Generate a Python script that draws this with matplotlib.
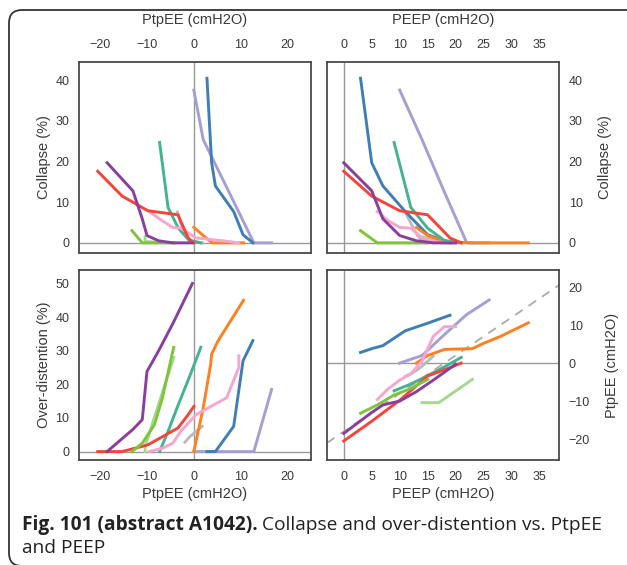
import numpy as np
import matplotlib
matplotlib.use("Agg")
import matplotlib.pyplot as plt
from matplotlib.patches import FancyBboxPatch

# per-patient series: PEEP step, PtpEE, collapse (%), over-distention (%)
blue_peep = [3, 5, 7, 11, 15, 19]
blue_ptpee = [2.8, 3.8, 4.6, 8.5, 10.5, 12.6]
blue_collapse = [40.5, 19.7, 14.0, 7.7, 2.0, 0.0]
blue_overdist = [0, 0, 0, 7.5, 27, 33]

lavender_peep = [10, 14, 18, 22, 26]
lavender_ptpee = [0, 2, 7.5, 12.8, 16.6]
lavender_collapse = [37.6, 25.4, 12.5, 0, 0]
lavender_overdist = [0, 0, 0, 0, 18.5]

orange_peep = [13, 15, 18, 23, 25, 28, 33]
orange_ptpee = [0, 2, 3.6, 3.8, 5.2, 7, 10.6]
orange_collapse = [3.8, 1.8, 0.3, 0, 0, 0, 0]
orange_overdist = [0, 13, 26, 29, 33, 37, 45]

red_peep = [0, 5, 10, 15, 19, 21]
red_ptpee = [-20.5, -15.3, -9.8, -3.4, -1.2, 0]
red_collapse = [17.6, 11.5, 7.9, 6.9, 1.2, 0]
red_overdist = [0, 0, 2, 7, 11, 13.4]

purple_peep = [0, 5, 7, 10, 13, 16, 20]
purple_ptpee = [-18.5, -13, -11, -10.0, -7.5, -4.5, -0.3]
purple_collapse = [19.7, 12.8, 5.9, 1.8, 0.5, 0, 0]
purple_overdist = [0, 6.6, 9.5, 23.8, 30, 38, 50]

teal_peep = [9, 12, 15, 18, 21]
teal_ptpee = [-7.3, -5.5, -3.3, -1.0, 1.5]
teal_collapse = [24.7, 8.7, 3.6, 0.6, 0]
teal_overdist = [0, 6, 14, 22, 31]

pink_peep = [6, 8, 10, 12, 14, 16, 18, 20]
pink_ptpee = [-9.6, -6.7, -4.5, -2.8, 0.5, 7, 9.6, 9.6]
pink_collapse = [7.7, 5.4, 3.8, 3.6, 1.2, 0.4, 0, 0]
pink_overdist = [0, 1, 2.5, 6, 11, 16, 25, 28.5]

green_peep = [3, 6, 9, 12, 15]
green_ptpee = [-13.2, -11, -8.4, -6.7, -4.3]
green_collapse = [3, 0, 0, 0, 0]
green_overdist = [0, 2.5, 8, 16, 31]

lightgreen_peep = [14, 17, 23]
lightgreen_ptpee = [-10.4, -10.4, -4.3]
lightgreen_collapse = [1.5, 0.3, 0]
lightgreen_overdist = [0, 1.5, 28]

grey_peep = [11, 12, 13, 14, 16]
grey_ptpee = [-3.5, -2.8, -1.9, -0.8, 1.8]
grey_collapse = [7.6, 4.8, 2.2, 0.5, 0]
grey_overdist = [np.nan, np.nan, 2.8, 4.5, 7.5]

# dashed reference line in the PtpEE vs PEEP panel
ref_peep = [-3, 38.5]
ref_ptpee = [-21, 20.5]

patients = [
    ('#bbbbbb', grey_peep, grey_ptpee, grey_collapse, grey_overdist),
    ('#a3d990', lightgreen_peep, lightgreen_ptpee, lightgreen_collapse, lightgreen_overdist),
    ('#a59fd4', lavender_peep, lavender_ptpee, lavender_collapse, lavender_overdist),
    ('#3f7fb5', blue_peep, blue_ptpee, blue_collapse, blue_overdist),
    ('#ff8020', orange_peep, orange_ptpee, orange_collapse, orange_overdist),
    ('#45b392', teal_peep, teal_ptpee, teal_collapse, teal_overdist),
    ('#f7a6d0', pink_peep, pink_ptpee, pink_collapse, pink_overdist),
    ('#f5453a', red_peep, red_ptpee, red_collapse, red_overdist),
    ('#7fc43a', green_peep, green_ptpee, green_collapse, green_overdist),
    ('#8a3f9c', purple_peep, purple_ptpee, purple_collapse, purple_overdist),
]

plt.rcParams['font.family'] = ['Liberation Sans', 'DejaVu Sans']
txt_col = '#3a3a3a'
lab_size = 10.5

W, H = 627, 565
fig = plt.figure(figsize=(W / 100, H / 100), dpi=100)


def px_axes(l, t, r, b):
    return fig.add_axes([l / W, 1 - b / H, (r - l) / W, (b - t) / H])


ax_tl = px_axes(79, 62, 311, 253)
ax_tr = px_axes(327, 62, 559, 253)
ax_bl = px_axes(79, 270, 311, 460)
ax_br = px_axes(327, 270, 559, 460)

for ax in [ax_tl, ax_tr, ax_bl, ax_br]:
    for s in ax.spines.values():
        s.set_color('#4a4a4a')
        s.set_linewidth(1.3)
    ax.tick_params(axis='x', length=0, labelsize=9, labelcolor=txt_col, pad=8)
    ax.tick_params(axis='y', length=0, labelsize=9, labelcolor=txt_col, pad=7)
    ax.axhline(0, color='#999999', lw=1, zorder=1)
    ax.axvline(0, color='#999999', lw=1, zorder=1)

for col, peep, ptpee, coll, over in patients:
    ax_tl.plot(ptpee, coll, color=col, lw=2.1)
    ax_tr.plot(peep, coll, color=col, lw=2.1)
    ax_bl.plot(ptpee, over, color=col, lw=2.1)
    ax_br.plot(peep, ptpee, color=col, lw=2.1)

ax_br.plot(ref_peep, ref_ptpee, color='#aaaaaa', lw=1.3, ls=(0, (5, 4)), zorder=1)

# top-left
ax_tl.set_xlim(-24.5, 25)
ax_tl.set_ylim(-2.5, 44.5)
ax_tl.set_xticks([-20, -10, 0, 10, 20])
ax_tl.set_yticks([0, 10, 20, 30, 40])
ax_tl.xaxis.tick_top()
ax_tl.xaxis.set_label_position('top')
ax_tl.set_xlabel('PtpEE (cmH2O)', fontsize=lab_size, color=txt_col, labelpad=11)
ax_tl.set_ylabel('Collapse (%)', fontsize=lab_size, color=txt_col, labelpad=3)

# top-right
ax_tr.set_xlim(-3, 38.5)
ax_tr.set_ylim(-2.5, 44.5)
ax_tr.set_xticks([0, 5, 10, 15, 20, 25, 30, 35])
ax_tr.set_yticks([0, 10, 20, 30, 40])
ax_tr.xaxis.tick_top()
ax_tr.xaxis.set_label_position('top')
ax_tr.yaxis.tick_right()
ax_tr.yaxis.set_label_position('right')
ax_tr.set_xlabel('PEEP (cmH2O)', fontsize=lab_size, color=txt_col, labelpad=11)
ax_tr.set_ylabel('Collapse (%)', fontsize=lab_size, color=txt_col, labelpad=11)

# bottom-left
ax_bl.set_xlim(-24.5, 25)
ax_bl.set_ylim(-2.5, 54)
ax_bl.set_xticks([-20, -10, 0, 10, 20])
ax_bl.set_yticks([0, 10, 20, 30, 40, 50])
ax_bl.set_xlabel('PtpEE (cmH2O)', fontsize=lab_size, color=txt_col, labelpad=3)
ax_bl.set_ylabel('Over-distention (%)', fontsize=lab_size, color=txt_col, labelpad=3)

# bottom-right
ax_br.set_xlim(-3, 38.5)
ax_br.set_ylim(-25.5, 24.5)
ax_br.set_xticks([0, 5, 10, 15, 20, 25, 30, 35])
ax_br.set_yticks([-20, -10, 0, 10, 20])
ax_br.yaxis.tick_right()
ax_br.yaxis.set_label_position('right')
ax_br.set_xlabel('PEEP (cmH2O)', fontsize=lab_size, color=txt_col, labelpad=3)
ax_br.set_ylabel('PtpEE (cmH2O)', fontsize=lab_size, color=txt_col, labelpad=11)

# rounded frame
box = FancyBboxPatch((0.09, -0.01), 6.6, 5.56, boxstyle='round,pad=0,rounding_size=0.13',
                     transform=fig.dpi_scale_trans, fill=False, ec='#333333', lw=1.3)
fig.patches.append(box)

# caption
cap_size = 13.8
renderer = fig.canvas.get_renderer()
t1 = fig.text(22 / W, 1 - 530 / H, 'Fig. 101 (abstract A1042).', fontsize=cap_size,
              fontweight='bold', family='Open Sans', color='#222222', va='baseline')
bb = t1.get_window_extent(renderer)
fig.text((bb.x1 + 4) / W, 1 - 530 / H, 'Collapse and over-distention vs. PtpEE', fontsize=cap_size,
         family='Open Sans', color='#222222', va='baseline')
fig.text(22 / W, 1 - 553 / H, 'and PEEP', fontsize=cap_size, family='Open Sans',
         color='#222222', va='baseline')

fig.savefig('out.png', dpi=100)
